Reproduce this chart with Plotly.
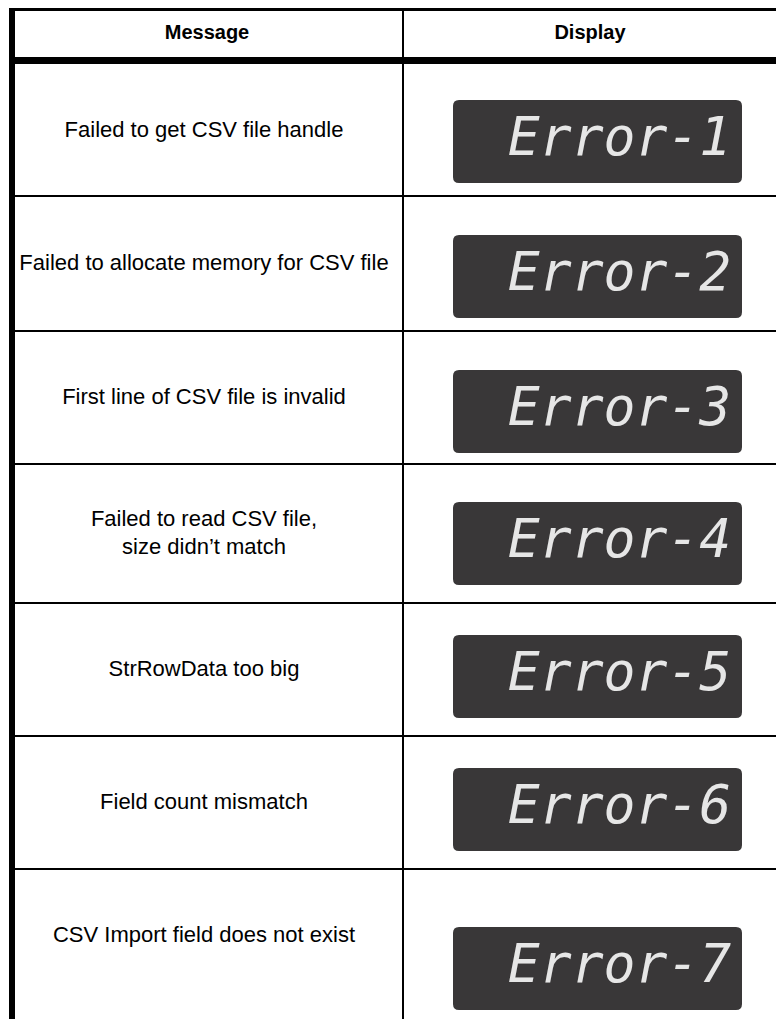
import plotly.graph_objects as go

# ---------------- data ----------------
headers = ["Message", "Display"]
messages = [
    "Failed to get CSV file handle",
    "Failed to allocate memory for CSV file",
    "First line of CSV file is invalid",
    "Failed to read CSV file,<br>size didn\u2019t match",
    "StrRowData too big",
    "Field count mismatch",
    "CSV Import field does not exist",
]
codes = ["Error-1", "Error-2", "Error-3", "Error-4", "Error-5", "Error-6", "Error-7"]

# ---------------- layout constants (pixels, screen coordinates) ----------------
W, H = 784, 1019
OFF = 8  # default page body margin
row_edges = [64, 196, 331, 464, 603, 736, 869, 1002]
box_tops = [100, 235, 370, 502, 635, 768, 927]
box_h = 83
box_x0, box_x1 = 453, 742
col_div = 403
msg_cx = 204
disp_cx = 592

fig = go.Figure()

shapes = []
shapes.append(dict(type="line", x0=9, x1=W + OFF, y0=8, y1=8, line=dict(color="black", width=6)))
shapes.append(dict(type="line", x0=12, x1=12, y0=5, y1=H + OFF, line=dict(color="black", width=6)))
shapes.append(dict(type="line", x0=9, x1=W + OFF, y0=60.5, y1=60.5, line=dict(color="black", width=7)))
shapes.append(dict(type="line", x0=col_div, x1=col_div, y0=11, y1=H + OFF, line=dict(color="black", width=2)))
for y in row_edges[1:-1]:
    shapes.append(dict(type="line", x0=15, x1=W + OFF, y0=y, y1=y, line=dict(color="black", width=2)))


def rounded_rect(x0, y0, x1, y1, r):
    return (f"M {x0+r},{y0} L {x1-r},{y0} Q {x1},{y0} {x1},{y0+r} "
            f"L {x1},{y1-r} Q {x1},{y1} {x1-r},{y1} L {x0+r},{y1} "
            f"Q {x0},{y1} {x0},{y1-r} L {x0},{y0+r} Q {x0},{y0} {x0+r},{y0} Z")


for t in box_tops:
    shapes.append(dict(type="path", path=rounded_rect(box_x0, t, box_x1, t + box_h, 6),
                       fillcolor="#393738", line=dict(width=0), layer="below"))

fig.update_layout(shapes=shapes)

fig.add_trace(go.Scatter(
    x=[msg_cx + 3, disp_cx - 2], y=[34, 34], mode="text", text=headers,
    textfont=dict(family="Liberation Sans Narrow, Arial Narrow, Liberation Sans, Arial", size=20,
                  color="black", weight="bold"),
    hoverinfo="skip", showlegend=False))

row_centers = [(row_edges[i] + row_edges[i + 1]) / 2 + 1 for i in range(len(messages))]
fig.add_trace(go.Scatter(
    x=[msg_cx] * len(messages), y=row_centers, mode="text", text=messages,
    textfont=dict(family="Liberation Sans, Arial", size=22, color="black"),
    hoverinfo="skip", showlegend=False))

fig.add_trace(go.Scatter(
    x=[(box_x0 + box_x1) / 2 + 22] * len(codes), y=[t + box_h / 2 for t in box_tops],
    mode="text", text=codes,
    textfont=dict(family="DejaVu Sans Mono", size=53, color="#e6e6e6", style="italic"),
    hoverinfo="skip", showlegend=False))

fig.update_xaxes(range=[OFF, W + OFF], visible=False, fixedrange=True)
fig.update_yaxes(range=[H + OFF, OFF], visible=False, fixedrange=True)
fig.update_layout(width=W, height=H, margin=dict(l=0, r=0, t=0, b=0),
                  plot_bgcolor="white", paper_bgcolor="white")

fig.write_html("out.html", config={"displayModeBar": False})
